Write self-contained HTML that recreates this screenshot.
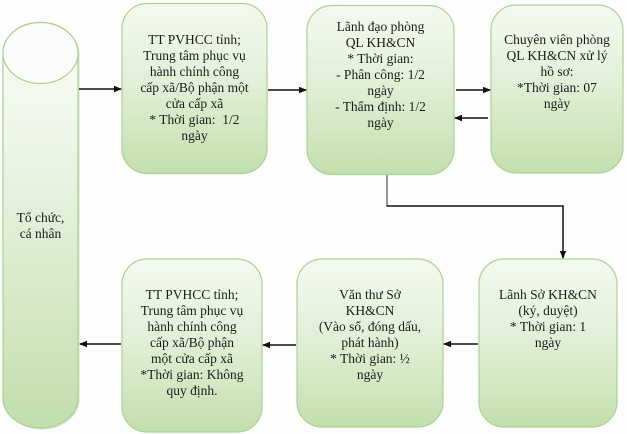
<!DOCTYPE html>
<html><head><meta charset="utf-8">
<style>
html,body{margin:0;padding:0;background:#fdfefd;}
#c{position:relative;width:627px;height:434px;overflow:hidden;background:#fcfdfc;}
svg{position:absolute;left:0;top:0;}
.t{position:absolute;font-family:"Liberation Serif",serif;font-size:13.5px;line-height:16px;color:#1c1c1c;text-align:center;white-space:nowrap;}
</style></head><body>
<div id="c">
<svg width="627" height="434" viewBox="0 0 627 434">
<defs>
<linearGradient id="g" x1="0" y1="0" x2="0" y2="1">
<stop offset="0" stop-color="#f4f9f0"/>
<stop offset="0.45" stop-color="#e2f0d8"/>
<stop offset="1" stop-color="#c3dfae"/>
</linearGradient>
<linearGradient id="gc" x1="0" y1="0" x2="0" y2="1">
<stop offset="0" stop-color="#fbfdf9"/>
<stop offset="0.35" stop-color="#eaf4e3"/>
<stop offset="1" stop-color="#c2deac"/>
</linearGradient>
<marker id="a" markerWidth="8" markerHeight="8" refX="7" refY="4" orient="auto" markerUnits="userSpaceOnUse">
<path d="M0,0.8 L8,4 L0,7.2 Z" fill="#111"/>
</marker>
</defs>
<!-- cylinder shadow -->
<path d="M4.5,54 A37.5,30.5 0 0 1 79.5,54 L79.5,399.5 A37.5,30 0 0 1 4.5,399.5 Z" fill="#b5c9a6" opacity="0.5"/>
<!-- cylinder -->
<path d="M3,53 A37.5,30.5 0 0 1 78,53 L78,398 A37.5,30 0 0 1 3,398 Z" fill="url(#gc)" stroke="#a9d08f" stroke-width="1.2"/>
<ellipse cx="40.5" cy="53" rx="37.5" ry="30.5" fill="#fcfdfb" stroke="#a9d08f" stroke-width="1.2"/>
<!-- boxes -->
<rect x="122" y="3.5" width="145" height="170" rx="25" fill="url(#g)" stroke="#acd293" stroke-width="1.2"/>
<rect x="307" y="5.5" width="147" height="169" rx="25" fill="url(#g)" stroke="#acd293" stroke-width="1.2"/>
<rect x="491" y="5" width="132" height="168" rx="25" fill="url(#g)" stroke="#acd293" stroke-width="1.2"/>
<rect x="479" y="259" width="138" height="168" rx="25" fill="url(#g)" stroke="#acd293" stroke-width="1.2"/>
<rect x="297" y="259" width="146" height="168" rx="25" fill="url(#g)" stroke="#acd293" stroke-width="1.2"/>
<rect x="122" y="259" width="140" height="173" rx="25" fill="url(#g)" stroke="#acd293" stroke-width="1.2"/>
<!-- arrows -->
<line x1="79" y1="89" x2="121" y2="89" stroke="#111" stroke-width="1.5" marker-end="url(#a)"/>
<line x1="268" y1="90" x2="306" y2="90" stroke="#111" stroke-width="1.5" marker-end="url(#a)"/>
<line x1="456" y1="90" x2="490" y2="90" stroke="#111" stroke-width="1.5" marker-end="url(#a)"/>
<line x1="488" y1="118" x2="455" y2="118" stroke="#111" stroke-width="1.5" marker-end="url(#a)"/>
<line x1="387" y1="175" x2="387" y2="206" stroke="#8a8a8a" stroke-width="1.8"/>
<polyline points="386.5,206 563,206 563,258" fill="none" stroke="#111" stroke-width="1.5" marker-end="url(#a)"/>
<line x1="478" y1="344" x2="444" y2="344" stroke="#111" stroke-width="1.5" marker-end="url(#a)"/>
<line x1="296" y1="345" x2="263" y2="345" stroke="#111" stroke-width="1.5" marker-end="url(#a)"/>
<line x1="121" y1="344" x2="80" y2="344" stroke="#111" stroke-width="1.5" marker-end="url(#a)"/>
</svg>
<div class="t" style="left:3px;width:75px;top:210px;">Tổ chức,<br>cá nhân</div>
<div class="t" style="left:122px;width:145px;top:32px;">TT PVHCC tỉnh;<br>Trung tâm phục vụ<br>hành chính công<br>cấp xã/Bộ phận một<br>cửa cấp xã<br>* Thời gian:&nbsp; 1/2<br>ngày</div>
<div class="t" style="left:307px;width:147px;top:19px;">Lãnh đạo phòng<br>QL KH&amp;CN<br>* Thời gian:<br>- Phân công: 1/2<br>ngày<br>- Thẩm định: 1/2<br>ngày</div>
<div class="t" style="left:491px;width:132px;top:32px;">Chuyên viên phòng<br>QL KH&amp;CN xử lý<br>hồ sơ:<br>*Thời gian: 07<br>ngày</div>
<div class="t" style="left:479px;width:138px;top:287px;">Lãnh Sở KH&amp;CN<br>(ký, duyệt)<br>* Thời gian: 1<br>ngày</div>
<div class="t" style="left:297px;width:146px;top:287px;">Văn thư Sở<br>KH&amp;CN<br>(Vào sổ, đóng dấu,<br>phát hành)<br>* Thời gian: ½<br>ngày</div>
<div class="t" style="left:122px;width:140px;top:287px;">TT PVHCC tỉnh;<br>Trung tâm phục vụ<br>hành chính công<br>cấp xã/Bộ phận<br>một cửa cấp xã<br>*Thời gian: Không<br>quy định.</div>
</div>
</body></html>
